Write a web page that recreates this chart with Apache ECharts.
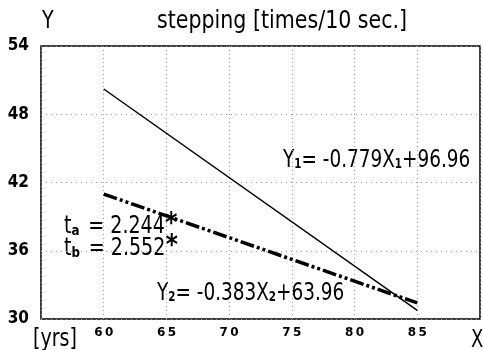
<!DOCTYPE html>
<html>
<head>
<meta charset="utf-8">
<script src="https://cdn.jsdelivr.net/npm/echarts@6/dist/echarts.min.js"></script>
<style>
  html, body { margin: 0; padding: 0; background: #fff; }
  #chart { width: 483px; height: 350px; }
</style>
</head>
<body>
<div id="chart"></div>
<script>
// data (regression lines, age in years)
var years = [60, 85];
var stepping1 = [50.22, 30.75];   // Y1 = -0.779X1 + 96.96
var stepping2 = [40.98, 31.41];   // Y2 = -0.383X2 + 63.96
var yTicks = [30, 36, 42, 48, 54];
var xTicks = [60, 65, 70, 75, 80, 85];

var FONT = "'DejaVu Sans Condensed', 'DejaVu Sans', sans-serif";

var chart = echarts.init(document.getElementById('chart'));

function pairs(xs, ys) {
  return xs.map(function (x, i) { return [x, ys[i]]; });
}

// text label placed by its top-left corner, squeezed sideways (tall narrow look)
function label(x, y, text, sx, rich) {
  var style = { text: text, font: '25px ' + FONT, fill: '#000', verticalAlign: 'top', align: 'left' };
  if (rich) style.rich = rich;
  return { type: 'text', x: x, y: y, scaleX: sx || 1, style: style };
}

var eqRich = {
  m: { font: '25px ' + FONT, fill: '#000', verticalAlign: 'bottom' },
  s: { font: 'bold 14px ' + FONT, fill: '#000', verticalAlign: 'bottom', padding: [0, 0, 2, 0] }
};
var tRich = {
  m: { font: '25px ' + FONT, fill: '#000', verticalAlign: 'bottom', lineHeight: 22 },
  s: { font: 'bold 14px DejaVu Sans', fill: '#000', verticalAlign: 'bottom', padding: [0, 3, 1, 0], lineHeight: 22 },
  a: { font: 'bold 28px DejaVu Sans', fill: '#000', verticalAlign: 'bottom', lineHeight: 22 }
};

var option = {
  animation: false,
  backgroundColor: '#fff',
  grid: {
    left: 41, right: 2, top: 46, bottom: 31,
    show: true, borderColor: '#000', borderWidth: 1.5
  },
  xAxis: {
    type: 'value', min: 55, max: 90, interval: 5,
    axisLine: { show: false }, axisTick: { show: false },
    axisLabel: {
      margin: 8, color: '#000', fontWeight: 'bold', fontSize: 12,
      fontFamily: 'DejaVu Sans',
      formatter: function (v) {
        return xTicks.indexOf(v) >= 0 ? String(v).split('').join('\u2009') : '';
      }
    },
    splitLine: { show: true, lineStyle: { color: '#999', type: [1, 3], width: 1 } }
  },
  yAxis: {
    type: 'value', min: yTicks[0], max: yTicks[yTicks.length - 1], interval: 6,
    axisLine: { show: false }, axisTick: { show: false },
    axisLabel: {
      margin: 12, color: '#000', fontWeight: 'bold', fontSize: 17, fontFamily: FONT
    },
    splitLine: { show: true, lineStyle: { color: '#999', type: [1, 4], width: 1 } }
  },
  series: [
    {
      type: 'line', data: pairs(years, stepping1), symbol: 'none',
      lineStyle: { color: '#000', width: 1.5 }
    },
    {
      type: 'line', data: pairs(years, stepping2), symbol: 'none',
      lineStyle: { color: '#000', width: 3.5, type: [14, 3, 3, 3, 3, 3] }
    }
  ],
  graphic: [
    label(42, 9, 'Y', 0.85),
    label(157, 9, 'stepping [times/10 sec.]', 0.915),
    label(33, 327, '[yrs]', 0.85),
    label(471, 328, 'X', 0.8),
    label(283, 148, '{m|Y}{s|1}{m|= -0.779X}{s|1}{m|+96.96}', 0.82, eqRich),
    label(157, 281, '{m|Y}{s|2}{m|= -0.383X}{s|2}{m|+63.96}', 0.82, eqRich),
    label(64, 217, '{m|t}{s|a}{m| = 2.244}{a|*}\n{m|t}{s|b}{m| = 2.552}{a|*}', 0.85, tRich)
  ]
};

chart.setOption(option);
</script>
</body>
</html>
